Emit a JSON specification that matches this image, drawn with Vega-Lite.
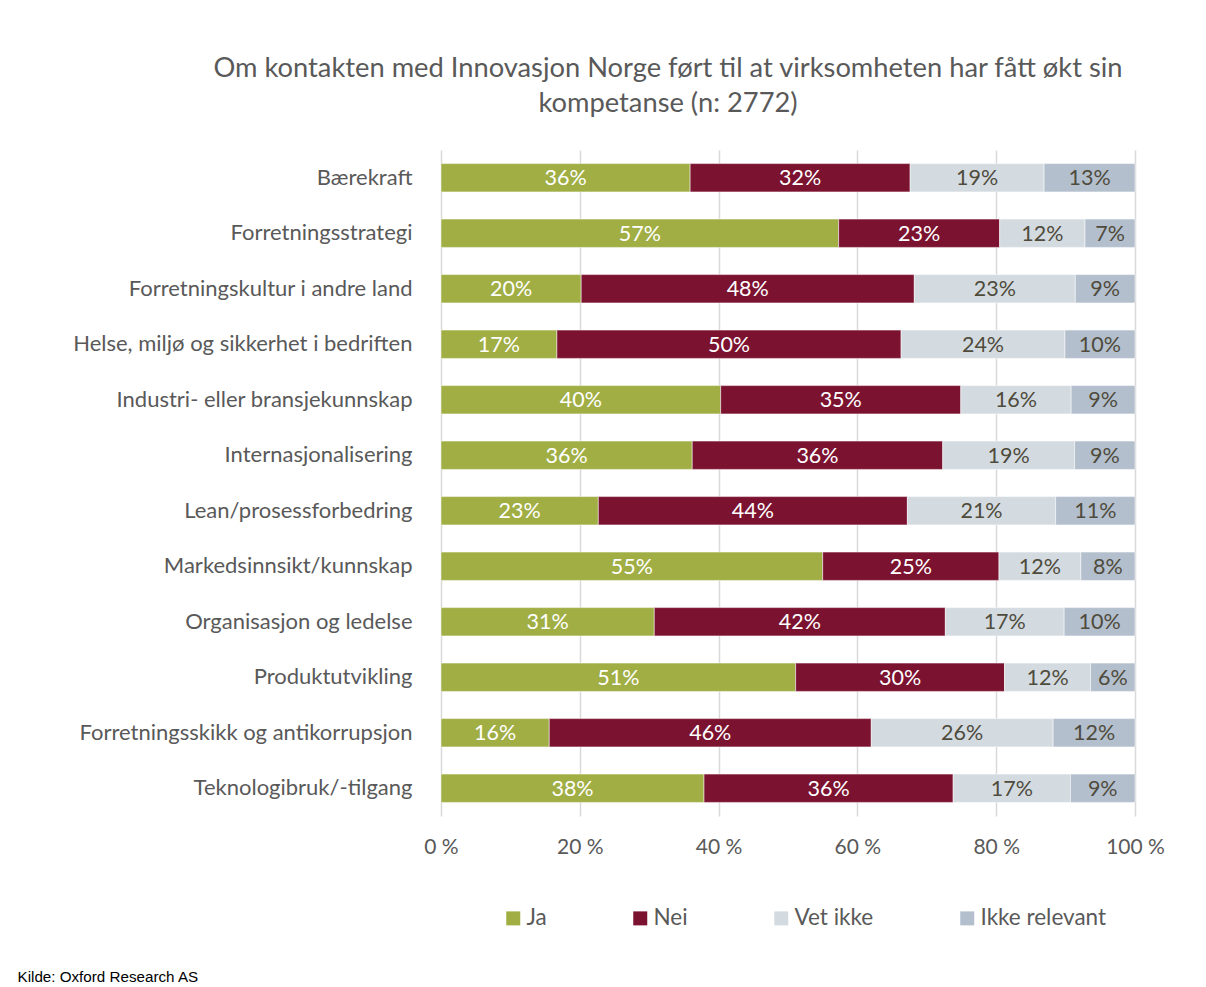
{
  "$schema": "https://vega.github.io/schema/vega-lite/v6.json",
  "autosize": "none",
  "width": 694,
  "height": 666,
  "padding": {"left": 441, "top": 150, "right": 71, "bottom": 171},
  "background": "white",
  "title": {
    "text": ["Om kontakten med Innovasjon Norge ført til at virksomheten har fått økt sin", "kompetanse (n: 2772)"],
    "font": "Lato",
    "fontSize": 27.3,
    "fontWeight": "normal",
    "color": "#595959",
    "lineHeight": 35,
    "anchor": "middle",
    "dx": -120,
    "offset": 33
  },
  "data": {
    "values": [
      {"omrade": "Bærekraft", "svar": "Ja", "n": 1, "andel": 0.359},
      {"omrade": "Bærekraft", "svar": "Nei", "n": 2, "andel": 0.317},
      {"omrade": "Bærekraft", "svar": "Vet ikke", "n": 3, "andel": 0.193},
      {"omrade": "Bærekraft", "svar": "Ikke relevant", "n": 4, "andel": 0.131},
      {"omrade": "Forretningsstrategi", "svar": "Ja", "n": 1, "andel": 0.573},
      {"omrade": "Forretningsstrategi", "svar": "Nei", "n": 2, "andel": 0.232},
      {"omrade": "Forretningsstrategi", "svar": "Vet ikke", "n": 3, "andel": 0.123},
      {"omrade": "Forretningsstrategi", "svar": "Ikke relevant", "n": 4, "andel": 0.072},
      {"omrade": "Forretningskultur i andre land", "svar": "Ja", "n": 1, "andel": 0.202},
      {"omrade": "Forretningskultur i andre land", "svar": "Nei", "n": 2, "andel": 0.48},
      {"omrade": "Forretningskultur i andre land", "svar": "Vet ikke", "n": 3, "andel": 0.232},
      {"omrade": "Forretningskultur i andre land", "svar": "Ikke relevant", "n": 4, "andel": 0.086},
      {"omrade": "Helse, miljø og sikkerhet i bedriften", "svar": "Ja", "n": 1, "andel": 0.167},
      {"omrade": "Helse, miljø og sikkerhet i bedriften", "svar": "Nei", "n": 2, "andel": 0.496},
      {"omrade": "Helse, miljø og sikkerhet i bedriften", "svar": "Vet ikke", "n": 3, "andel": 0.236},
      {"omrade": "Helse, miljø og sikkerhet i bedriften", "svar": "Ikke relevant", "n": 4, "andel": 0.101},
      {"omrade": "Industri- eller bransjekunnskap", "svar": "Ja", "n": 1, "andel": 0.403},
      {"omrade": "Industri- eller bransjekunnskap", "svar": "Nei", "n": 2, "andel": 0.346},
      {"omrade": "Industri- eller bransjekunnskap", "svar": "Vet ikke", "n": 3, "andel": 0.159},
      {"omrade": "Industri- eller bransjekunnskap", "svar": "Ikke relevant", "n": 4, "andel": 0.092},
      {"omrade": "Internasjonalisering", "svar": "Ja", "n": 1, "andel": 0.362},
      {"omrade": "Internasjonalisering", "svar": "Nei", "n": 2, "andel": 0.361},
      {"omrade": "Internasjonalisering", "svar": "Vet ikke", "n": 3, "andel": 0.19},
      {"omrade": "Internasjonalisering", "svar": "Ikke relevant", "n": 4, "andel": 0.087},
      {"omrade": "Lean/prosessforbedring", "svar": "Ja", "n": 1, "andel": 0.226},
      {"omrade": "Lean/prosessforbedring", "svar": "Nei", "n": 2, "andel": 0.444},
      {"omrade": "Lean/prosessforbedring", "svar": "Vet ikke", "n": 3, "andel": 0.213},
      {"omrade": "Lean/prosessforbedring", "svar": "Ikke relevant", "n": 4, "andel": 0.114},
      {"omrade": "Markedsinnsikt/kunnskap", "svar": "Ja", "n": 1, "andel": 0.55},
      {"omrade": "Markedsinnsikt/kunnskap", "svar": "Nei", "n": 2, "andel": 0.254},
      {"omrade": "Markedsinnsikt/kunnskap", "svar": "Vet ikke", "n": 3, "andel": 0.118},
      {"omrade": "Markedsinnsikt/kunnskap", "svar": "Ikke relevant", "n": 4, "andel": 0.078},
      {"omrade": "Organisasjon og ledelse", "svar": "Ja", "n": 1, "andel": 0.307},
      {"omrade": "Organisasjon og ledelse", "svar": "Nei", "n": 2, "andel": 0.419},
      {"omrade": "Organisasjon og ledelse", "svar": "Vet ikke", "n": 3, "andel": 0.171},
      {"omrade": "Organisasjon og ledelse", "svar": "Ikke relevant", "n": 4, "andel": 0.102},
      {"omrade": "Produktutvikling", "svar": "Ja", "n": 1, "andel": 0.511},
      {"omrade": "Produktutvikling", "svar": "Nei", "n": 2, "andel": 0.301},
      {"omrade": "Produktutvikling", "svar": "Vet ikke", "n": 3, "andel": 0.124},
      {"omrade": "Produktutvikling", "svar": "Ikke relevant", "n": 4, "andel": 0.064},
      {"omrade": "Forretningsskikk og antikorrupsjon", "svar": "Ja", "n": 1, "andel": 0.156},
      {"omrade": "Forretningsskikk og antikorrupsjon", "svar": "Nei", "n": 2, "andel": 0.464},
      {"omrade": "Forretningsskikk og antikorrupsjon", "svar": "Vet ikke", "n": 3, "andel": 0.262},
      {"omrade": "Forretningsskikk og antikorrupsjon", "svar": "Ikke relevant", "n": 4, "andel": 0.118},
      {"omrade": "Teknologibruk/-tilgang", "svar": "Ja", "n": 1, "andel": 0.379},
      {"omrade": "Teknologibruk/-tilgang", "svar": "Nei", "n": 2, "andel": 0.359},
      {"omrade": "Teknologibruk/-tilgang", "svar": "Vet ikke", "n": 3, "andel": 0.169},
      {"omrade": "Teknologibruk/-tilgang", "svar": "Ikke relevant", "n": 4, "andel": 0.093}
    ]
  },
  "encoding": {
    "y": {
      "field": "omrade",
      "type": "nominal",
      "sort": null,
      "title": null,
      "scale": {"paddingInner": 0.49, "paddingOuter": 0.245},
      "axis": {
        "domain": false,
        "ticks": false,
        "labelFont": "Lato",
        "labelFontSize": 22,
        "labelColor": "#595959",
        "labelPadding": 29,
        "labelLimit": 430
      }
    },
    "x": {
      "field": "andel",
      "type": "quantitative",
      "stack": "normalize",
      "scale": {"domain": [0, 1]},
      "title": "Kilde: Oxford Research AS",
      "axis": {
        "values": [0, 0.2, 0.4, 0.6, 0.8, 1],
        "labelExpr": "round(datum.value * 100) + ' %'",
        "labelFlush": false,
        "domain": false,
        "ticks": false,
        "grid": true,
        "gridColor": "#D9D9D9",
        "gridWidth": 1.5,
        "labelFont": "Lato",
        "labelFontSize": 21,
        "labelColor": "#595959",
        "labelPadding": 20,
        "titleFont": "Liberation Sans",
        "titleFontSize": 15.2,
        "titleFontWeight": "normal",
        "titleColor": "#000000",
        "titleAlign": "left",
        "titleBaseline": "alphabetic",
        "titleX": -424,
        "titleY": 165
      }
    },
    "order": {"field": "n", "type": "quantitative"}
  },
  "layer": [
    {
      "mark": {"type": "bar", "stroke": "white", "strokeWidth": 0.5},
      "encoding": {
        "color": {
          "field": "svar",
          "type": "nominal",
          "title": null,
          "scale": {
            "domain": ["Ja", "Nei", "Vet ikke", "Ikke relevant"],
            "range": ["#A0AE44", "#7B1230", "#D3DBE1", "#B3BFCD"]
          },
          "legend": {
            "orient": "none",
            "direction": "horizontal",
            "legendX": 61,
            "legendY": 757,
            "symbolType": "square",
            "symbolSize": 196,
            "symbolStrokeWidth": 0,
            "labelFont": "Lato",
            "labelFontSize": 22.5,
            "labelColor": "#595959",
            "labelOffset": 2,
            "columnPadding": 82,
            "padding": 0
          }
        }
      }
    },
    {
      "mark": {"type": "text", "font": "Lato", "fontSize": 21.5, "align": "center", "baseline": "middle", "dy": 1.5},
      "encoding": {
        "x": {"field": "andel", "type": "quantitative", "stack": "normalize", "bandPosition": 0.5},
        "text": {"field": "andel", "type": "quantitative", "format": ".0%"},
        "color": {
          "condition": {"test": "datum.svar === 'Ja' || datum.svar === 'Nei'", "value": "#FFFFFF"},
          "value": "#4F4B3C"
        }
      }
    }
  ],
  "config": {
    "view": {"stroke": null}
  }
}
